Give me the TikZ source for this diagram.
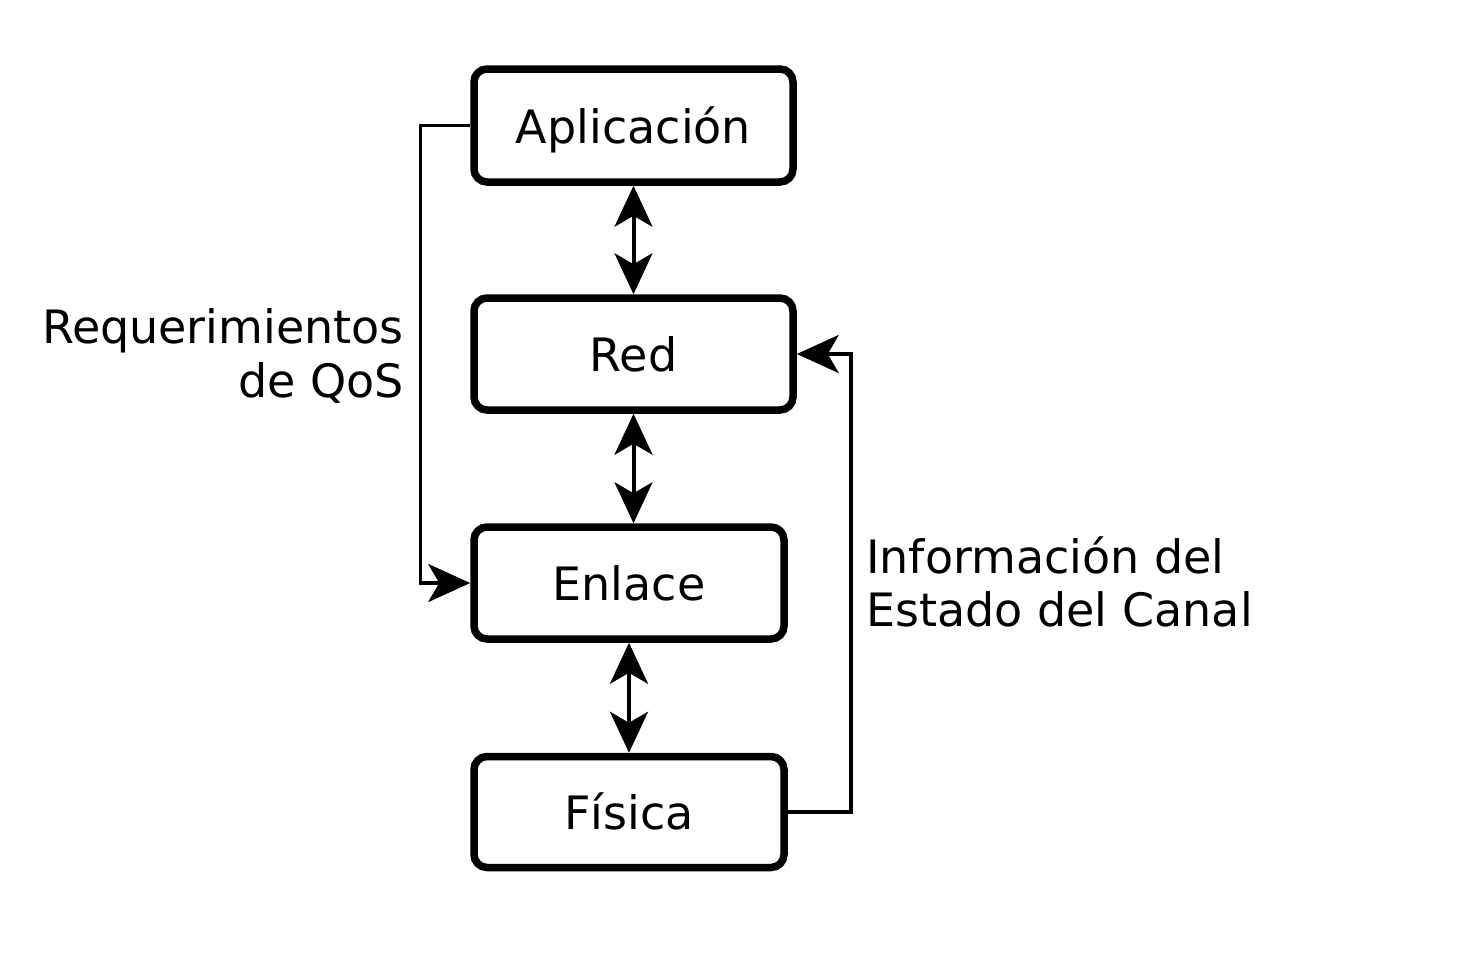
\documentclass[tikz,border=0pt]{standalone}
\usepackage{fontspec}
\setmainfont{DejaVu Sans}
\usetikzlibrary{arrows.meta,calc}
\begin{document}
\begin{tikzpicture}[x=1pt,y=-1pt,
  layer/.style={draw, line width=7.5pt, rounded corners=13pt, inner sep=0pt,
    text height=35pt, text depth=0pt, font=\fontsize{46}{53.5}\selectfont},
  biarrow/.style={line width=4pt, {Stealth[length=41pt,width=38pt,inset=11pt]}-{Stealth[length=41pt,width=38pt,inset=11pt]}},
  feed/.style={line width=3.5pt, -{Stealth[length=42pt,width=38pt,inset=11pt]}},
  lbl/.style={inner sep=0pt, font=\fontsize{46}{53.5}\selectfont}]
\useasboundingbox (0,0) rectangle (1462,953);
\node[layer, minimum width=319pt, minimum height=113pt] (app) at (633.5,125.5) {Aplicación};
\node[layer, minimum width=319pt, minimum height=112pt] (red) at (633.5,354) {Red};
\node[layer, minimum width=310pt, minimum height=112pt] (enl) at (629,583) {Enlace};
\node[layer, minimum width=310pt, minimum height=111pt] (fis) at (629,812) {Física};
\draw[biarrow] (app.south) -- (red.north);
\draw[biarrow] (red.south) -- (red.south |- enl.north);
\draw[biarrow] (enl.south) -- (fis.north);
\coordinate (L) at (420.5,125.5);
\coordinate (R) at (851,812);
\draw[feed] (app.west) -- (L) |- (enl.west);
\draw[feed] (fis.east) -- (R) |- (red.east);
\node[lbl, align=right, anchor=east] (qos) at (404,356) {Requerimientos\\de QoS};
\node[lbl, align=left, anchor=west] (csi) at (866,582) {Información del\\Estado del Canal};
\end{tikzpicture}
\end{document}
